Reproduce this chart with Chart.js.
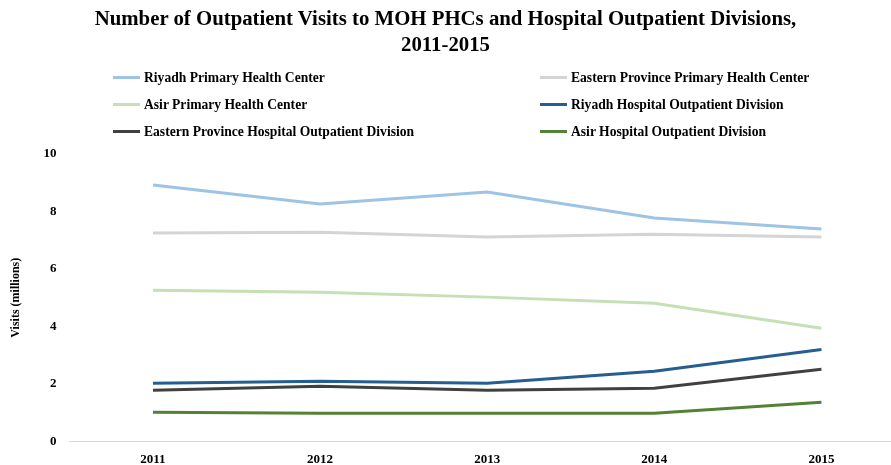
<!DOCTYPE html>
<html>
<head>
<meta charset="utf-8">
<script src="https://cdn.jsdelivr.net/npm/chart.js@4"></script>
<style>
  html, body { margin: 0; padding: 0; background: #fff; overflow: hidden; }
  #wrap { position: relative; width: 891px; height: 465px; overflow: hidden; }
  #graph { position: absolute; left: 0; top: 0; }
  #title { position: absolute; left: 0; top: 5px; width: 891px; text-align: center; font: bold 20.8px "Liberation Serif", "Times New Roman", serif; line-height: 26px; color: #000; }
  #legend { position: absolute; left: 0; top: 0; width: 891px; height: 0; }
  .item { position: absolute; font: bold 13.6px "Liberation Serif", "Times New Roman", serif; color: #000; white-space: nowrap; }
  .item span.swatch { display: inline-block; width: 27px; height: 3px; vertical-align: middle; margin-right: 4px; position: relative; top: -1px; }
</style>
</head>
<body>
<div id="wrap">
  <canvas id="graph" width="905" height="477"></canvas>
  <div id="title">Number of Outpatient Visits to MOH PHCs and Hospital Outpatient Divisions,<br>2011-2015</div>
  <div id="legend"></div>
</div>
<script>
// years on the x axis
var years = ["2011", "2012", "2013", "2014", "2015"];

// visits in millions
var riyadhPHC = [8.92, 8.26, 8.68, 7.77, 7.39];
var easternPHC = [7.25, 7.28, 7.11, 7.21, 7.11];
var asirPHC = [5.26, 5.19, 5.02, 4.81, 3.94];
var riyadhHosp = [2.02, 2.09, 2.02, 2.44, 3.20];
var easternHosp = [1.78, 1.92, 1.78, 1.85, 2.51];
var asirHosp = [1.01, 0.98, 0.98, 0.98, 1.36];

var seriesNames = [
  "Riyadh Primary Health Center",
  "Eastern Province Primary Health Center",
  "Asir Primary Health Center",
  "Riyadh Hospital Outpatient Division",
  "Eastern Province Hospital Outpatient Division",
  "Asir Hospital Outpatient Division"
];
var seriesColors = ["#9DC3E6", "#D4D4D4", "#C5E0B4", "#255E91", "#404040", "#548235"];
var seriesData = [riyadhPHC, easternPHC, asirPHC, riyadhHosp, easternHosp, asirHosp];

var serif = "'Liberation Serif', 'Times New Roman', serif";

var datasets = [];
for (var i = 0; i < seriesNames.length; i++) {
  datasets.push({
    label: seriesNames[i],
    data: seriesData[i],
    borderColor: seriesColors[i],
    backgroundColor: seriesColors[i],
    borderWidth: 3,
    pointRadius: 0,
    tension: 0,
    fill: false
  });
}

var ctx = document.getElementById('graph').getContext('2d');
var myChart = new Chart(ctx, {
  type: "line",
  data: { labels: years, datasets: datasets },
  options: {
    responsive: false,
    animation: false,
    layout: { padding: { top: 154, left: 9, right: 0, bottom: 0 } },
    plugins: {
      legend: { display: false },
      tooltip: { enabled: false },
      title: { display: false }
    },
    scales: {
      x: {
        offset: true,
        grid: { display: false, drawTicks: false },
        border: { display: true, color: "#D9D9D9", width: 1 },
        ticks: { color: "#000", font: { family: serif, size: 13, weight: "bold" }, padding: 10 }
      },
      y: {
        min: 0,
        max: 10,
        grid: { display: false, drawTicks: false },
        border: { display: false },
        ticks: { stepSize: 2, color: "#000", font: { family: serif, size: 13, weight: "bold" }, padding: 13 },
        title: { display: true, text: "Visits (millions)", color: "#000", font: { family: serif, size: 12, weight: "bold" }, padding: { top: 0, bottom: 7 } }
      }
    }
  }
});

// two-column legend built from the chart's datasets
var legendPos = [[113, 70], [540, 70], [113, 97], [540, 97], [113, 124], [540, 124]];
var legendBox = document.getElementById("legend");
myChart.data.datasets.forEach(function(ds, i) {
  var el = document.createElement("div");
  el.className = "item";
  el.style.left = legendPos[i][0] + "px";
  el.style.top = legendPos[i][1] + "px";
  el.innerHTML = '<span class="swatch" style="background:' + ds.borderColor + '"></span>' + ds.label;
  legendBox.appendChild(el);
});
</script>
</body>
</html>
